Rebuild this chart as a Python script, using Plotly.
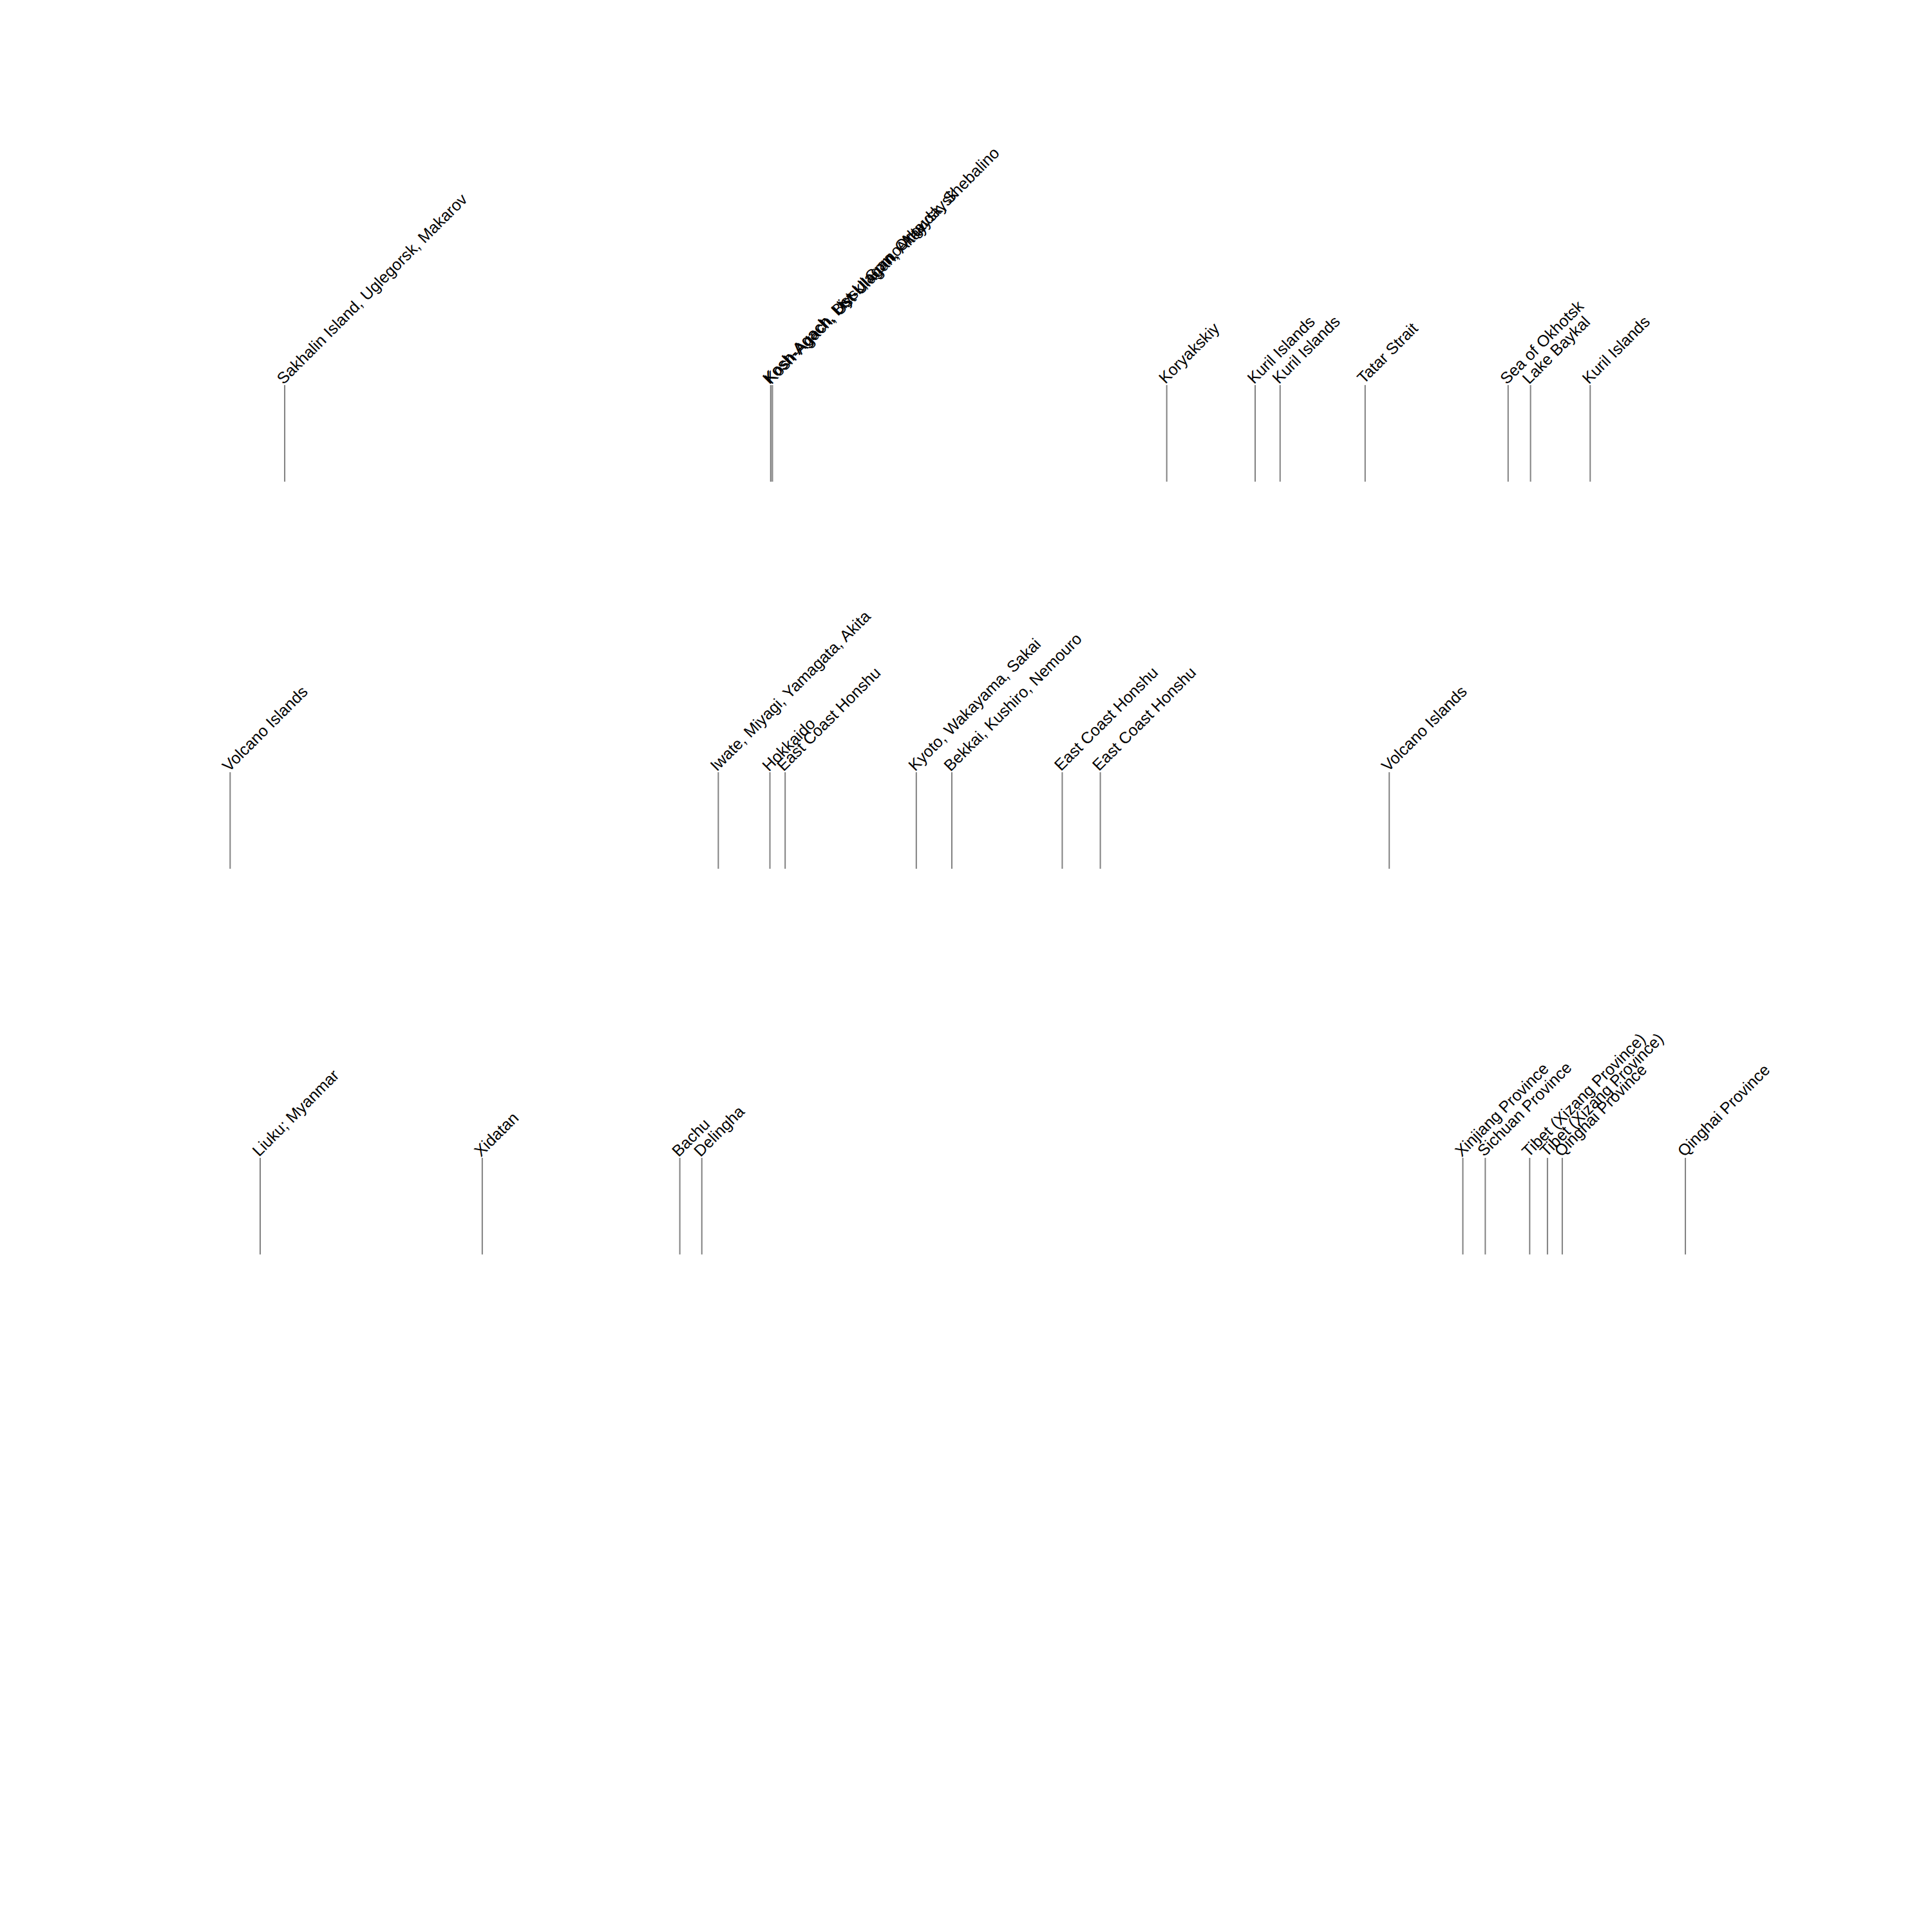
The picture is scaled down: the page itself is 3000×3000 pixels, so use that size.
import plotly.graph_objects as go

# ---- data -------------------------------------------------------------
russia_dates = ["2000-08-04", "2003-09-27", "2003-09-27", "2003-10-01",
                "2006-04-20", "2006-11-15", "2007-01-13", "2007-08-02",
                "2008-07-05", "2008-08-27", "2009-01-15"]
russia_labels = ["Sakhalin Island, Uglegorsk, Makarov",
                 "Kosh-Agach, Biysk, Gorno-Altaysk, Shebalino",
                 "Kosh-Agach, Ust-Ulagan, Ongudaysk",
                 "Kosh-Agach, Ust-Ulagan, Altay",
                 "Koryakskiy", "Kuril Islands", "Kuril Islands", "Tatar Strait",
                 "Sea of Okhotsk", "Lake Baykal", "Kuril Islands"]

japan_dates = ["2000-03-28", "2003-05-26", "2003-09-25", "2003-10-31",
               "2004-09-05", "2004-11-28", "2005-08-16", "2005-11-14",
               "2007-09-28"]
japan_labels = ["Volcano Islands", "Iwate, Miyagi, Yamagata, Akita", "Hokkaido",
                "East Coast Honshu", "Kyoto, Wakayama, Sakai",
                "Bekkai, Kushiro, Nemouro", "East Coast Honshu",
                "East Coast Honshu", "Volcano Islands"]

china_dates = ["2000-06-07", "2001-11-14", "2003-02-24", "2003-04-17",
               "2008-03-20", "2008-05-12", "2008-08-25", "2008-10-06",
               "2008-11-10", "2009-08-28"]
china_labels = ["Liuku; Myanmar", "Xidatan", "Bachu", "Delingha",
                "Xinjiang Province", "Sichuan Province",
                "Tibet (Xizang Province)", "Tibet (Xizang Province)",
                "Qinghai Province", "Qinghai Province"]

stem_height = 1.0
x_range = ["1998-10-01", "2011-04-03"]

rows = [(russia_dates, russia_labels),
        (japan_dates, japan_labels),
        (china_dates, china_labels)]

# ---- figure -----------------------------------------------------------
fig = go.Figure()
row_bottoms = [0.7507, 0.5503, 0.3507]
row_height = 0.195
y_range = [0, 3.9]

annotations = []
for i, (dates, labels) in enumerate(rows):
    n = i + 1
    xs, ys = [], []
    for d in dates:
        xs += [d, d, None]
        ys += [0, stem_height, None]
    fig.add_trace(go.Scatter(
        x=xs, y=ys, mode="lines",
        line=dict(color="#808080", width=2),
        xaxis="x" if n == 1 else f"x{n}",
        yaxis="y" if n == 1 else f"y{n}",
        showlegend=False, hoverinfo="skip"))
    for d, lab in zip(dates, labels):
        annotations.append(dict(
            x=d, y=stem_height,
            xref="x" if n == 1 else f"x{n}",
            yref="y" if n == 1 else f"y{n}",
            text=lab, showarrow=False, textangle=-45,
            xanchor="left", yanchor="bottom",
            xshift=-21, yshift=-6,
            font=dict(family="Arial, Liberation Sans, sans-serif",
                      size=25, color="black")))

layout = dict(
    width=3000, height=3000,
    margin=dict(l=0, r=0, t=0, b=0),
    paper_bgcolor="white", plot_bgcolor="white",
    annotations=annotations,
    showlegend=False,
)
for i in range(3):
    n = i + 1
    xk = "xaxis" if n == 1 else f"xaxis{n}"
    yk = "yaxis" if n == 1 else f"yaxis{n}"
    layout[xk] = dict(type="date", range=x_range, domain=[0, 1],
                      visible=False, anchor="y" if n == 1 else f"y{n}")
    layout[yk] = dict(range=y_range,
                      domain=[row_bottoms[i], row_bottoms[i] + row_height],
                      visible=False, anchor="x" if n == 1 else f"x{n}")
fig.update_layout(**layout)

fig.write_html("out.html")
